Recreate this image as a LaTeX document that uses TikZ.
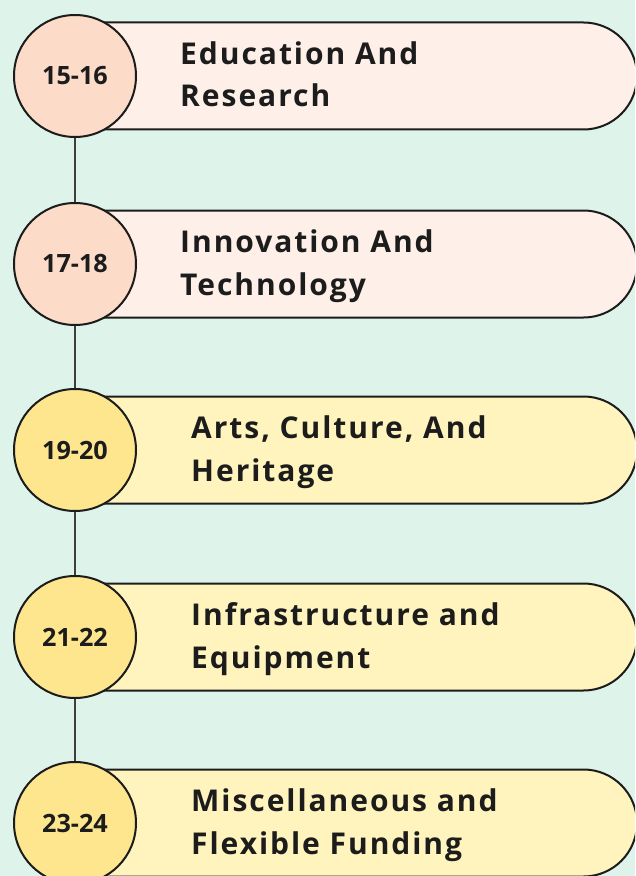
\documentclass[tikz,border=0pt]{standalone}
\usepackage{fontspec}
\setmainfont{Open Sans}
\newfontfamily\labelfont[LetterSpace=6.5]{Open Sans}
\usetikzlibrary{shapes.misc}

\definecolor{bgmint}{HTML}{DEF3EA}
\definecolor{peachcirc}{HTML}{FCDCC8}
\definecolor{peachbar}{HTML}{FEF0E9}
\definecolor{yellowcirc}{HTML}{FDE68E}
\definecolor{yellowbar}{HTML}{FFF4BE}
\definecolor{ink}{HTML}{1C1C1C}

\def\px{0.03cm}

\tikzset{
  bar/.style={draw=ink, line width=2*\px, rounded rectangle,
    rounded rectangle west arc=none,
    minimum width=561*\px, minimum height=107*\px, inner sep=0pt},
  year/.style={draw=ink, line width=2*\px, circle, minimum size=122*\px,
    inner sep=0pt, text=ink, font=\bfseries\fontsize{21.5pt}{24pt}\selectfont},
  title/.style={anchor=base west, align=left, inner sep=0pt, text=ink,
    font=\labelfont\bfseries\fontsize{25.6pt}{36.6pt}\selectfont},
  link/.style={draw=ink!85, line width=2*\px}
}

\begin{document}
\begin{tikzpicture}[x=0.03cm, y=-0.03cm]

\useasboundingbox (0,0) rectangle (635,876);
\clip (0,0) rectangle (635,876);
\fill[bgmint] (0,0) rectangle (635,876);

\coordinate (p1) at (75,76);
\coordinate (p2) at (75,264);
\coordinate (p3) at (75,450);
\coordinate (p4) at (75,637);
\coordinate (p5) at (75,823);

\draw[link] (p1) -- (p5);

\node[bar, fill=peachbar, anchor=west] (b1) at (p1) {};
\node[bar, fill=peachbar, anchor=west] (b2) at (p2) {};
\node[bar, fill=yellowbar, anchor=west] (b3) at (p3) {};
\node[bar, fill=yellowbar, anchor=west] (b4) at (p4) {};
\node[bar, fill=yellowbar, anchor=west] (b5) at (p5) {};

\node[year, fill=peachcirc] (c1) at (p1) {15-16};
\node[year, fill=peachcirc] (c2) at (p2) {17-18};
\node[year, fill=yellowcirc] (c3) at (p3) {19-20};
\node[year, fill=yellowcirc] (c4) at (p4) {21-22};
\node[year, fill=yellowcirc] (c5) at (p5) {23-24};

\node[title] (t1) at (180,107) {Education And\\Research};
\node[title] (t2) at (180,295) {Innovation And\\Technology};
\node[title] (t3) at (191,481) {Arts, Culture, And\\Heritage};
\node[title] (t4) at (191,668) {Infrastructure and\\Equipment};
\node[title] (t5) at (191,854) {Miscellaneous and\\Flexible Funding};

\end{tikzpicture}
\end{document}
